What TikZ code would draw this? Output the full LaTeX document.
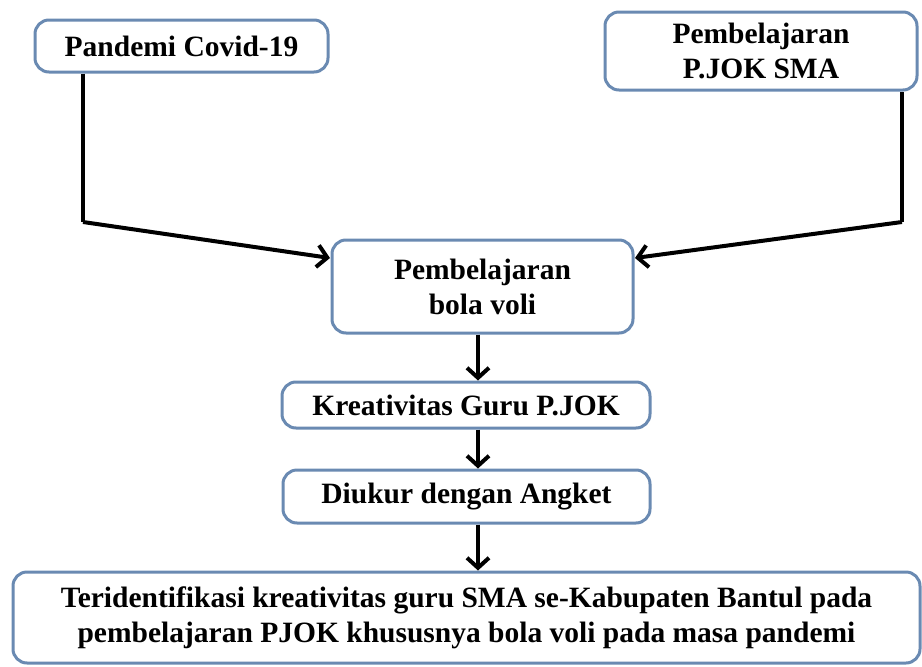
\documentclass[tikz,border=0pt]{standalone}
\usepackage{fontspec}
\setmainfont{Liberation Serif}
\usetikzlibrary{arrows.meta}
\definecolor{boxblue}{HTML}{6A8AB2}
\begin{document}
\begin{tikzpicture}[x=1pt,y=-1pt,
  flowbox/.style={draw=boxblue,line width=3pt,rounded corners=14pt,fill=white,
    align=center,inner sep=0pt,font=\bfseries\fontsize{29.5}{35}\selectfont},
  flowarrow/.style={line width=4pt,-{Straight Barb[length=10pt,width=22pt,line width=4pt]}}]
\useasboundingbox (0,0) rectangle (922,667);
\node[flowbox,minimum width=293pt,minimum height=52pt] (b1) at (181.5,46) {Pandemi Covid-19};
\node[flowbox,minimum width=312pt,minimum height=78pt] (b2) at (761,51) {Pembelajaran\\P.JOK SMA};
\node[flowbox,minimum width=301pt,minimum height=93pt] (b3) at (482.5,286.5) {Pembelajaran\\bola voli};
\node[flowbox,minimum width=368pt,minimum height=46pt] (b4) at (466,405) {Kreativitas Guru P.JOK};
\node[flowbox,minimum width=367pt,minimum height=53pt] (b5) at (466.5,496.5) {Diukur dengan Angket};
\node[flowbox,minimum width=907pt,minimum height=91pt] (b6) at (466.5,617.5)
  {Teridentifikasi kreativitas guru SMA se-Kabupaten Bantul pada\\
   pembelajaran PJOK khususnya bola voli pada masa pandemi};
\coordinate (lc) at (83,222);
\coordinate (rc) at (902,222);
\coordinate (lin) at (330,258);
\coordinate (rin) at (635,258);
\coordinate (col) at (478,0);
\draw[line width=4pt] (lc |- b1.south) -- (lc);
\draw[flowarrow] (lc) -- (lin);
\draw[line width=4pt] (rc |- b2.south) -- (rc);
\draw[flowarrow] (rc) -- (rin);
\draw[flowarrow] (col |- b3.south) -- (col |- b4.north);
\draw[flowarrow] (col |- b4.south) -- (col |- b5.north);
\draw[flowarrow] (col |- b5.south) -- (col |- b6.north);
\end{tikzpicture}
\end{document}
